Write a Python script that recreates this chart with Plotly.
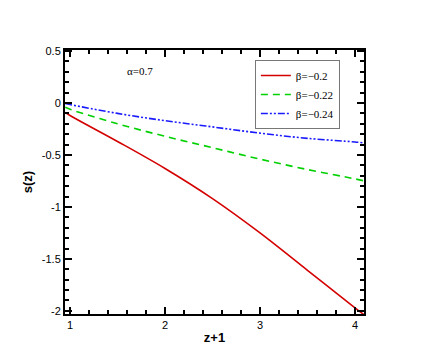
import plotly.graph_objects as go

# z+1 sample points and s(z)
zp1 = [0.95, 1.0, 1.5, 2.0, 2.5, 3.0, 3.5, 4.0, 4.1]
s_b020 = [-0.09, -0.12, -0.37, -0.63, -0.92, -1.25, -1.61, -1.97, -2.04]
s_b022 = [-0.04, -0.06, -0.20, -0.32, -0.43, -0.54, -0.64, -0.73, -0.75]
s_b024 = [-0.005, -0.015, -0.10, -0.17, -0.23, -0.29, -0.34, -0.375, -0.385]

series = [
    ("β=−0.2", s_b020, "#d40000", "solid"),
    ("β=−0.22", s_b022, "#00d000", "7px,5px"),
    ("β=−0.24", s_b024, "#1a1aff", "7px,2px,2px,2px,2px,2px"),
]

x_ticks = [1, 2, 3, 4]
y_ticks = [0.5, 0, -0.5, -1, -1.5, -2]
y_labels = ["0.5", "0", "-0.5", "-1", "-1.5", "-2"]
x_range = [0.947, 4.095]
y_range = [-2.03, 0.51]

fig = go.Figure()
for name, ys, color, dash in series:
    fig.add_trace(go.Scatter(
        x=zp1, y=ys, mode="lines", name=name, line_shape="spline",
        line=dict(color=color, width=1.6, dash=dash),
    ))

font_sans = "Liberation Sans, Arial"
font_serif = "Liberation Serif, Times New Roman"

tick_style = dict(ticks="inside", ticklen=7, tickwidth=1.5, tickcolor="black",
                  showgrid=False, zeroline=False)
line_style = dict(showline=True, linecolor="black", linewidth=2)

fig.update_layout(
    xaxis=dict(
        range=x_range, tickvals=x_ticks, ticktext=[str(t) for t in x_ticks],
        minor=dict(dtick=0.2, tick0=1, ticks="inside", ticklen=4, tickcolor="black"),
        title=dict(text="<b>z+1</b>", standoff=3,
                   font=dict(family=font_sans, size=13, color="black")),
        tickfont=dict(family=font_sans, size=11, color="black"),
        mirror=True, **line_style, **tick_style,
    ),
    yaxis=dict(
        range=y_range, tickvals=y_ticks, ticktext=y_labels,
        minor=dict(dtick=0.1, tick0=0, ticks="inside", ticklen=4, tickcolor="black"),
        title=dict(text="<b>s(z)</b>", standoff=6,
                   font=dict(family=font_sans, size=13, color="black")),
        tickfont=dict(family=font_sans, size=11, color="black"),
        mirror=True, **line_style, **tick_style,
    ),
    # opposite-side axes just to carry the mirrored major/minor ticks
    xaxis2=dict(
        range=x_range, overlaying="x", side="top", anchor="y", tickvals=x_ticks,
        showticklabels=False, minor=dict(dtick=0.2, tick0=1, ticks="inside",
                                         ticklen=4, tickcolor="black"),
        **tick_style,
    ),
    yaxis2=dict(
        range=y_range, overlaying="y", side="right", anchor="x", tickvals=y_ticks,
        showticklabels=False, minor=dict(dtick=0.1, tick0=0, ticks="inside",
                                         ticklen=4, tickcolor="black"),
        **tick_style,
    ),
)

# invisible carrier so the mirrored axes get drawn
fig.add_trace(go.Scatter(x=zp1, y=s_b024, xaxis="x2", yaxis="y2", mode="lines",
                         line=dict(width=0), opacity=0, showlegend=False,
                         hoverinfo="skip"))

fig.add_annotation(
    x=0.2, y=0.92, xref="paper", yref="paper", text="α=0.7", showarrow=False,
    xanchor="left", yanchor="middle",
    font=dict(family=font_serif, size=11, color="black"),
)

fig.update_layout(
    width=436, height=357,
    margin=dict(l=57, r=80, t=42, b=51),
    paper_bgcolor="white", plot_bgcolor="white",
    legend=dict(
        x=0.635, y=0.962, xanchor="left", yanchor="top",
        bordercolor="#777777", borderwidth=1, bgcolor="white",
        font=dict(family=font_serif, size=11, color="black"),
        tracegroupgap=0, itemwidth=30,
    ),
    showlegend=True,
)

fig.write_html("out.html")
